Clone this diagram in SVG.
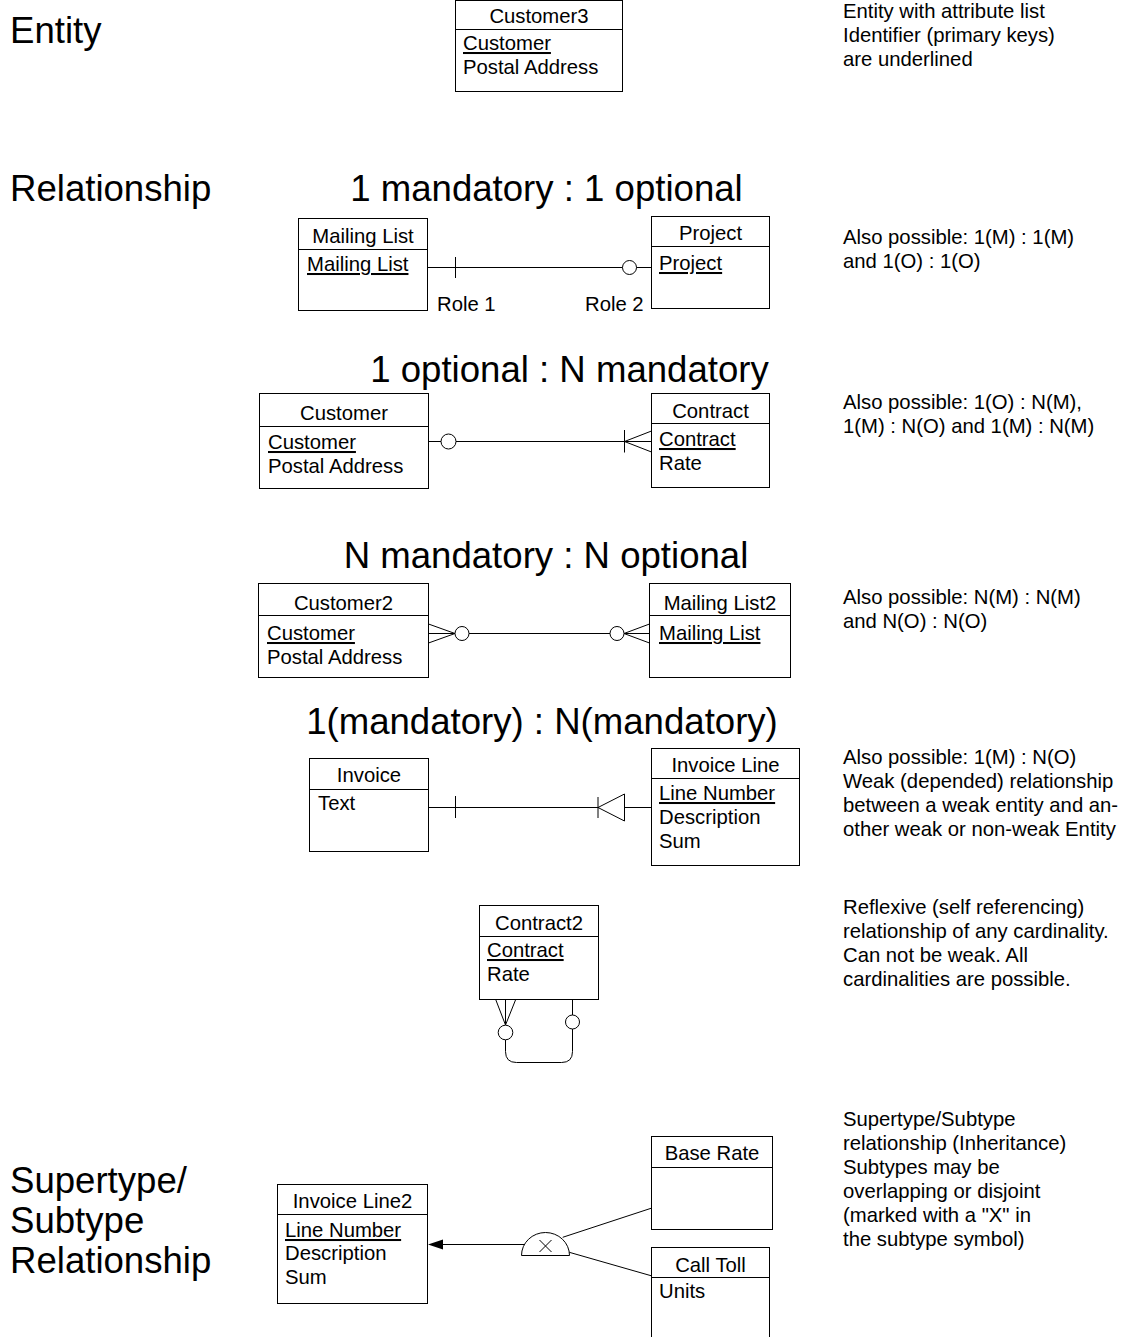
<svg xmlns="http://www.w3.org/2000/svg" width="1124" height="1337" viewBox="0 0 1124 1337">
  <style>
    text { font-family: "Liberation Sans", Arial, Helvetica, sans-serif; font-size: 20.3px; fill: #000; }
    .big { font-size: 36.6px; }
    .mid { text-anchor: middle; }
    .key { text-decoration: underline; }
    .box { fill: #fff; stroke: #000; stroke-width: 1; }
    .sep { stroke: #000; stroke-width: 1; }
    .ln { fill: none; stroke: #000; stroke-width: 1; }
    .opt { fill: #fff; stroke: #000; stroke-width: 1; }
  </style>
  <rect width="1124" height="1337" fill="#fff"/>

  <!-- section labels -->
  <g id="labels">
    <text class="big" x="10" y="43">Entity</text>
    <text class="big" x="10" y="201">Relationship</text>
    <text class="big" x="10" y="1193">Supertype/</text>
    <text class="big" x="10" y="1233">Subtype</text>
    <text class="big" x="10" y="1273">Relationship</text>
    <text class="big mid" x="546.5" y="201">1 mandatory : 1 optional</text>
    <text class="big mid" x="569.5" y="382">1 optional : N mandatory</text>
    <text class="big mid" x="546" y="568">N mandatory : N optional</text>
    <text class="big mid" x="542" y="734">1(mandatory) : N(mandatory)</text>
  </g>

  <!-- explanatory notes -->
  <g id="notes">
    <text x="843" y="18">Entity with attribute list</text>
    <text x="843" y="42">Identifier (primary keys)</text>
    <text x="843" y="66">are underlined</text>
    <text x="843" y="244">Also possible: 1(M) : 1(M)</text>
    <text x="843" y="268">and 1(O) : 1(O)</text>
    <text x="843" y="409">Also possible: 1(O) : N(M),</text>
    <text x="843" y="433">1(M) : N(O) and 1(M) : N(M)</text>
    <text x="843" y="604">Also possible: N(M) : N(M)</text>
    <text x="843" y="628">and N(O) : N(O)</text>
    <text x="843" y="764">Also possible: 1(M) : N(O)</text>
    <text x="843" y="788">Weak (depended) relationship</text>
    <text x="843" y="812">between a weak entity and an-</text>
    <text x="843" y="836">other weak or non-weak Entity</text>
    <text x="843" y="914">Reflexive (self referencing)</text>
    <text x="843" y="938">relationship of any cardinality.</text>
    <text x="843" y="962">Can not be weak. All</text>
    <text x="843" y="986">cardinalities are possible.</text>
    <text x="843" y="1126">Supertype/Subtype</text>
    <text x="843" y="1150">relationship (Inheritance)</text>
    <text x="843" y="1174">Subtypes may be</text>
    <text x="843" y="1198">overlapping or disjoint</text>
    <text x="843" y="1222">(marked with a "X" in</text>
    <text x="843" y="1246">the subtype symbol)</text>
  </g>

  <!-- connectors -->
  <g id="connectors">
    <!-- Mailing List (one, mandatory) to Project (one, optional) -->
    <line class="ln" x1="428" y1="267.5" x2="651" y2="267.5"/>
    <line class="ln" x1="455.5" y1="257" x2="455.5" y2="278"/>
    <circle class="opt" cx="629.5" cy="267.5" r="7"/>
    <text x="437" y="311">Role 1</text>
    <text x="585" y="311">Role 2</text>

    <!-- Customer (one, optional) to Contract (many, mandatory) -->
    <line class="ln" x1="428.5" y1="441.5" x2="651.5" y2="441.5"/>
    <circle class="opt" cx="448.5" cy="441.5" r="7.5"/>
    <line class="ln" x1="624.5" y1="430" x2="624.5" y2="452.5"/>
    <polyline class="ln" points="651.5,431 624.5,441.5 651.5,452"/>

    <!-- Customer2 (many, optional) to Mailing List2 (many, optional) -->
    <line class="ln" x1="428.5" y1="633.5" x2="649.5" y2="633.5"/>
    <polyline class="ln" points="428.5,624 455,633.5 428.5,643"/>
    <circle class="opt" cx="462" cy="633.5" r="7"/>
    <circle class="opt" cx="617" cy="633.5" r="7"/>
    <polyline class="ln" points="649.5,624 624,633.5 649.5,643"/>

    <!-- Invoice to Invoice Line, weak relationship -->
    <line class="ln" x1="428.5" y1="807.5" x2="598" y2="807.5"/>
    <line class="ln" x1="624.5" y1="807.5" x2="651.5" y2="807.5"/>
    <line class="ln" x1="455.5" y1="796" x2="455.5" y2="818"/>
    <line class="ln" x1="598" y1="797" x2="598" y2="818"/>
    <polygon class="ln" points="598,807.5 624.5,794 624.5,821"/>

    <!-- Contract2 reflexive loop -->
    <line class="ln" x1="505.5" y1="999.5" x2="505.5" y2="1025"/>
    <polyline class="ln" points="495.7,999.5 505.5,1025 515.7,999.5"/>
    <circle class="opt" cx="505.5" cy="1032.5" r="7.3"/>
    <path class="ln" d="M505.5,1040 V1051.5 Q505.5,1062.5 516.5,1062.5 H561.5 Q572.5,1062.5 572.5,1051.5 V1029"/>
    <line class="ln" x1="572.5" y1="999.5" x2="572.5" y2="1015"/>
    <circle class="opt" cx="572.5" cy="1022" r="7"/>

    <!-- supertype / subtype -->
    <line class="ln" x1="443" y1="1244.5" x2="524" y2="1244.5"/>
    <polygon points="428,1244.5 443,1239.5 443,1249.5" fill="#000"/>
    <path class="opt" d="M521.5,1255.5 A24,23 0 0 1 569.5,1255.5 Z"/>
    <line class="ln" x1="539.5" y1="1240" x2="551.5" y2="1252"/>
    <line class="ln" x1="551.5" y1="1240" x2="539.5" y2="1252"/>
    <line class="ln" x1="562.7" y1="1237.3" x2="651" y2="1208.3"/>
    <line class="ln" x1="569.3" y1="1252.3" x2="651" y2="1275.7"/>
  </g>

  <!-- entities -->
  <g id="customer3">
    <rect class="box" x="455.5" y="0.5" width="167" height="91"/>
    <line class="sep" x1="455.5" y1="29.5" x2="622.5" y2="29.5"/>
    <text class="mid" x="539" y="23">Customer3</text>
    <text class="key" x="463" y="50">Customer</text>
    <text x="463" y="74">Postal Address</text>
  </g>

  <g id="mailing-list">
    <rect class="box" x="298.5" y="218.5" width="129" height="92"/>
    <line class="sep" x1="298.5" y1="249.5" x2="427.5" y2="249.5"/>
    <text class="mid" x="363" y="243">Mailing List</text>
    <text class="key" x="307" y="271">Mailing List</text>
  </g>

  <g id="project">
    <rect class="box" x="651.5" y="216.5" width="118" height="92"/>
    <line class="sep" x1="651.5" y1="246.5" x2="769.5" y2="246.5"/>
    <text class="mid" x="710.5" y="240">Project</text>
    <text class="key" x="659" y="270">Project</text>
  </g>

  <g id="customer">
    <rect class="box" x="259.5" y="393.5" width="169" height="95"/>
    <line class="sep" x1="259.5" y1="426.5" x2="428.5" y2="426.5"/>
    <text class="mid" x="344" y="420">Customer</text>
    <text class="key" x="268" y="449">Customer</text>
    <text x="268" y="473">Postal Address</text>
  </g>

  <g id="contract">
    <rect class="box" x="651.5" y="393.5" width="118" height="94"/>
    <line class="sep" x1="651.5" y1="423.5" x2="769.5" y2="423.5"/>
    <text class="mid" x="710.5" y="418">Contract</text>
    <text class="key" x="659" y="446">Contract</text>
    <text x="659" y="470">Rate</text>
  </g>

  <g id="customer2">
    <rect class="box" x="258.5" y="583.5" width="170" height="94"/>
    <line class="sep" x1="258.5" y1="615.5" x2="428.5" y2="615.5"/>
    <text class="mid" x="343.5" y="610">Customer2</text>
    <text class="key" x="267" y="640">Customer</text>
    <text x="267" y="664">Postal Address</text>
  </g>

  <g id="mailing-list2">
    <rect class="box" x="649.5" y="583.5" width="141" height="94"/>
    <line class="sep" x1="649.5" y1="615.5" x2="790.5" y2="615.5"/>
    <text class="mid" x="720" y="610">Mailing List2</text>
    <text class="key" x="659" y="640">Mailing List</text>
  </g>

  <g id="invoice">
    <rect class="box" x="309.5" y="758.5" width="119" height="93"/>
    <line class="sep" x1="309.5" y1="789.5" x2="428.5" y2="789.5"/>
    <text class="mid" x="369" y="782">Invoice</text>
    <text x="318" y="810">Text</text>
  </g>

  <g id="invoice-line">
    <rect class="box" x="651.5" y="748.5" width="148" height="117"/>
    <line class="sep" x1="651.5" y1="778.5" x2="799.5" y2="778.5"/>
    <text class="mid" x="725.5" y="772">Invoice Line</text>
    <text class="key" x="659" y="800">Line Number</text>
    <text x="659" y="824">Description</text>
    <text x="659" y="848">Sum</text>
  </g>

  <g id="contract2">
    <rect class="box" x="479.5" y="905.5" width="119" height="94"/>
    <line class="sep" x1="479.5" y1="936.5" x2="598.5" y2="936.5"/>
    <text class="mid" x="539" y="929.5">Contract2</text>
    <text class="key" x="487" y="957">Contract</text>
    <text x="487" y="981">Rate</text>
  </g>

  <g id="invoice-line2">
    <rect class="box" x="277.5" y="1184.5" width="150" height="119"/>
    <line class="sep" x1="277.5" y1="1214.5" x2="427.5" y2="1214.5"/>
    <text class="mid" x="352.5" y="1207.5">Invoice Line2</text>
    <text class="key" x="285" y="1237">Line Number</text>
    <text x="285" y="1260">Description</text>
    <text x="285" y="1284">Sum</text>
  </g>

  <g id="base-rate">
    <rect class="box" x="651.5" y="1136.5" width="121" height="93"/>
    <line class="sep" x1="651.5" y1="1167.5" x2="772.5" y2="1167.5"/>
    <text class="mid" x="712" y="1160">Base Rate</text>
  </g>

  <g id="call-toll">
    <rect class="box" x="651.5" y="1247.5" width="118" height="100"/>
    <line class="sep" x1="651.5" y1="1277.5" x2="769.5" y2="1277.5"/>
    <text class="mid" x="710.5" y="1272">Call Toll</text>
    <text x="659" y="1298">Units</text>
  </g>
</svg>
